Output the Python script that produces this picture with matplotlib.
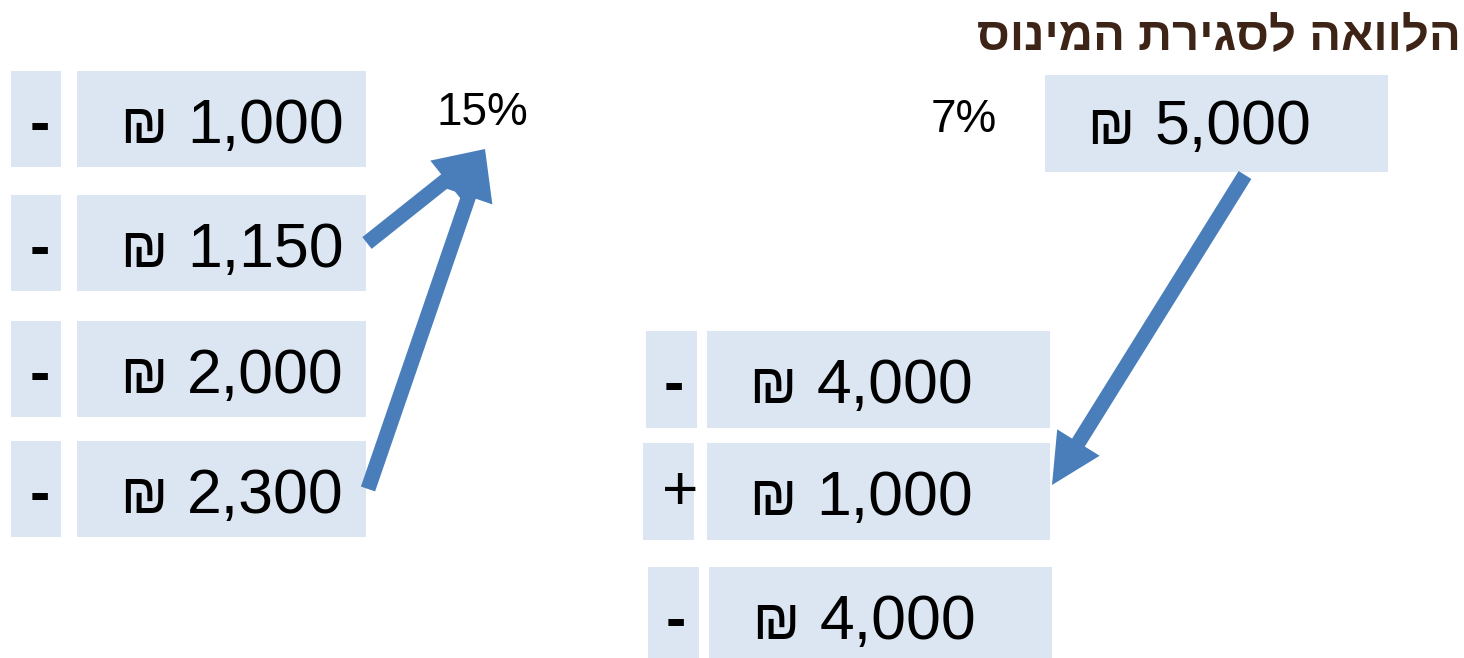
import matplotlib.pyplot as plt
from matplotlib.patches import Rectangle, FancyArrow

plt.rcParams['font.family'] = ['Liberation Sans', 'DejaVu Sans']

# data
title = "הלוואה לסגירת המינוס"
left_signs = ["-", "-", "-", "-"]
left_amounts = ["1,000", "1,150", "2,000", "2,300"]
right_signs = ["-", "+", "-"]
right_amounts = ["4,000", "1,000", "4,000"]
loan_amount = "5,000"
left_rate = "15%"
right_rate = "7%"

box_color = '#dce6f2'
arrow_color = '#4a7ebb'

fig = plt.figure(figsize=(14.64, 6.58), dpi=100)
ax = fig.add_axes([0, 0, 1, 1])
ax.set_xlim(0, 1464)
ax.set_ylim(658, 0)
ax.axis('off')

numbers = []  # (text artist, baseline y)

def box(x0, x1, y0, y1):
    ax.add_patch(Rectangle((x0, y0), x1 - x0, y1 - y0, color=box_color, lw=0))

def amount_text(x, y, s):
    t = ax.text(x, y, s, ha='right', va='baseline', fontsize=45, color='black')
    numbers.append((t, y))

def sign_text(x, y, s):
    if s == "-":
        ax.text(x, y + 6, s, ha='center', va='center', fontsize=44, fontweight='bold')
    else:
        ax.text(x, y, s, ha='center', va='center', fontsize=45)

# left column
left_tops = [71, 195, 321, 441]
for top, sign, amt in zip(left_tops, left_signs, left_amounts):
    box(11, 61, top, top + 96)
    box(77, 366, top, top + 96)
    sign_text(40, top + 50, sign)
    amount_text(344, top + 72, amt)

# right column
right_rows = [(331, 646, 697, 707, 1050, 973),
              (443, 643, 694, 707, 1050, 973),
              (567, 648, 699, 709, 1052, 976)]
for (top, sx0, sx1, bx0, bx1, tx), sign, amt in zip(right_rows, right_signs, right_amounts):
    box(sx0, sx1, top, top + 97)
    box(bx0, bx1, top, top + 97)
    sign_text((sx0 + sx1) / 2 + 12 if sign == "+" else (sx0 + sx1) / 2 + 2, top + 50, sign)
    amount_text(tx, top + 72, amt)

# loan box
box(1045, 1388, 75, 172)
amount_text(1311, 144, loan_amount)

ax.text(482, 113, left_rate, ha='center', va='center', fontsize=33)
ax.text(964, 120, right_rate, ha='center', va='center', fontsize=33)

ax.text(1461, 38, title[::-1], ha='right', va='center', fontsize=34,
        fontweight='bold', color='#3d2416')

# shekel signs, smaller, placed left of each number
fig.canvas.draw()
r = fig.canvas.get_renderer()
inv = ax.transData.inverted()
for t, y in numbers:
    bb = t.get_window_extent(r)
    x_left = inv.transform((bb.x0, bb.y0))[0]
    ax.text(x_left - 20, y, "\u20aa", ha='right', va='baseline', fontsize=40, color='black')

# arrows
def arrow(x0, y0, x1, y1):
    ax.add_patch(FancyArrow(x0, y0, x1 - x0, y1 - y0, width=15, head_width=50,
                            head_length=50, length_includes_head=True,
                            color=arrow_color, lw=0))

arrow(367, 243, 485, 149)
arrow(368, 489, 485, 149)
arrow(1245, 175, 1052, 485)

fig.savefig('out.png', dpi=100)
